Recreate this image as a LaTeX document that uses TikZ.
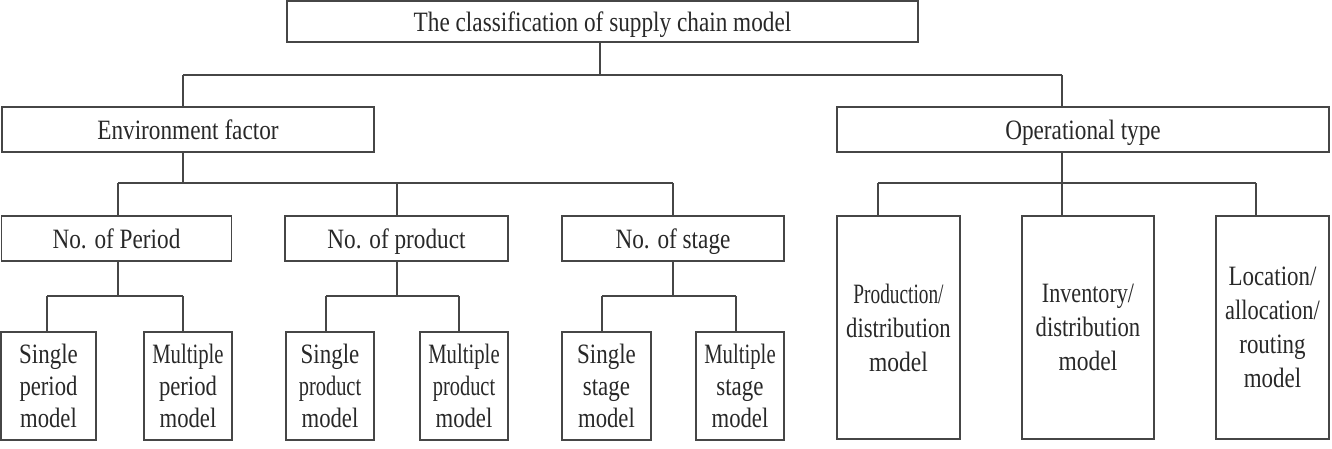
\documentclass[tikz,border=0pt]{standalone}
\usepackage{fontspec}
\usepackage{graphicx}
\setmainfont{Liberation Serif}
\newcommand\hs[2][0.82]{\scalebox{#1}[1]{#2}}
\definecolor{ln}{RGB}{70,70,70}
\definecolor{tx}{RGB}{40,40,40}
\begin{document}
\begin{tikzpicture}[x=1pt,y=-1pt,
  box/.style={draw=ln,line width=1.6pt,inner sep=0pt,align=center,text=tx,
    font=\fontsize{28}{32}\selectfont},
  onebox/.style={box,text height=23pt,text depth=3pt},
  tallbox/.style={box,font=\fontsize{28}{34}\selectfont},
  conn/.style={draw=ln,line width=1.6pt}]
\useasboundingbox (0,0) rectangle (1332,448);
% boxes
\node[onebox,minimum width=631,minimum height=41] (root) at (602.5,21.5) {\hs[0.83]{The classification of supply chain model}};
\node[onebox,minimum width=372,minimum height=45] (env) at (188,129.5) {\hs[0.83]{Environment factor}};
\node[onebox,minimum width=492,minimum height=45] (op) at (1083,129.5) {\hs[0.83]{Operational type}};
\node[onebox,minimum width=230,minimum height=45] (per) at (116.5,238.5) {\hs[0.83]{No. of Period}};
\node[onebox,minimum width=223,minimum height=45] (prd) at (396.5,238.5) {\hs[0.83]{No. of product}};
\node[onebox,minimum width=222,minimum height=45] (stg) at (673,238.5) {\hs[0.83]{No. of stage}};
\node[tallbox,minimum width=123,minimum height=223] (pd) at (898.5,327.5) {\hs[0.69]{Production/}\\\hs[0.81]{distribution}\\\hs[0.84]{model}};
\node[tallbox,minimum width=132,minimum height=223] (id) at (1088,327.5) {\hs[0.79]{Inventory/}\\\hs[0.81]{distribution}\\\hs[0.84]{model}};
\node[tallbox,minimum width=113,minimum height=223] (lar) at (1272.5,327.5) {\hs{Location/}\\\hs[0.80]{allocation/}\\\hs{routing}\\\hs{model}};
\node[box,minimum width=95,minimum height=108] (sp) at (48.5,386) {\hs{Single}\\\hs[0.81]{period}\\\hs[0.81]{model}};
\node[box,minimum width=88,minimum height=108] (mp) at (188,386) {\hs[0.74]{Multiple}\\\hs[0.81]{period}\\\hs[0.81]{model}};
\node[box,minimum width=88,minimum height=108] (spr) at (330,386) {\hs{Single}\\\hs[0.73]{product}\\\hs[0.81]{model}};
\node[box,minimum width=88,minimum height=108] (mpr) at (464,386) {\hs[0.74]{Multiple}\\\hs[0.73]{product}\\\hs[0.81]{model}};
\node[box,minimum width=89,minimum height=108] (ss) at (606.5,386) {\hs{Single}\\\hs{stage}\\\hs[0.81]{model}};
\node[box,minimum width=88,minimum height=108] (ms) at (740,386) {\hs[0.74]{Multiple}\\\hs{stage}\\\hs[0.81]{model}};
% junction coordinates
\coordinate (a1) at (183,75);  \coordinate (a2) at (1062,75);
\coordinate (b1) at (118,183); \coordinate (b2) at (397,183); \coordinate (b3) at (673,183);
\coordinate (c1) at (878,183); \coordinate (c2) at (1062,183); \coordinate (c3) at (1256,183);
\coordinate (p1) at (47,296);  \coordinate (p2) at (183,296);
\coordinate (q1) at (326,296); \coordinate (q2) at (459,296);
\coordinate (r1) at (602,296); \coordinate (r2) at (736,296);
% level 1
\draw[conn] (root.south -| 600,0) -- (600,75);
\draw[conn] (a1) -- (a2);
\draw[conn] (a1) -- (a1 |- env.north);
\draw[conn] (a2) -- (a2 |- op.north);
% environment
\draw[conn] (env.south -| a1) -- (a1 |- b1);
\draw[conn] (b1) -- (b3);
\draw[conn] (b1) -- (b1 |- per.north);
\draw[conn] (b2) -- (b2 |- prd.north);
\draw[conn] (b3) -- (b3 |- stg.north);
% operational
\draw[conn] (op.south -| c2) -- (c2);
\draw[conn] (c1) -- (c3);
\draw[conn] (c1) -- (c1 |- pd.north);
\draw[conn] (c2) -- (c2 |- id.north);
\draw[conn] (c3) -- (c3 |- lar.north);
% period
\draw[conn] (per.south -| b1) -- (b1 |- p1);
\draw[conn] (p1) -- (p2);
\draw[conn] (p1) -- (p1 |- sp.north);
\draw[conn] (p2) -- (p2 |- mp.north);
% product
\draw[conn] (prd.south -| b2) -- (b2 |- q1);
\draw[conn] (q1) -- (q2);
\draw[conn] (q1) -- (q1 |- spr.north);
\draw[conn] (q2) -- (q2 |- mpr.north);
% stage
\draw[conn] (stg.south -| b3) -- (b3 |- r1);
\draw[conn] (r1) -- (r2);
\draw[conn] (r1) -- (r1 |- ss.north);
\draw[conn] (r2) -- (r2 |- ms.north);
\end{tikzpicture}
\end{document}
